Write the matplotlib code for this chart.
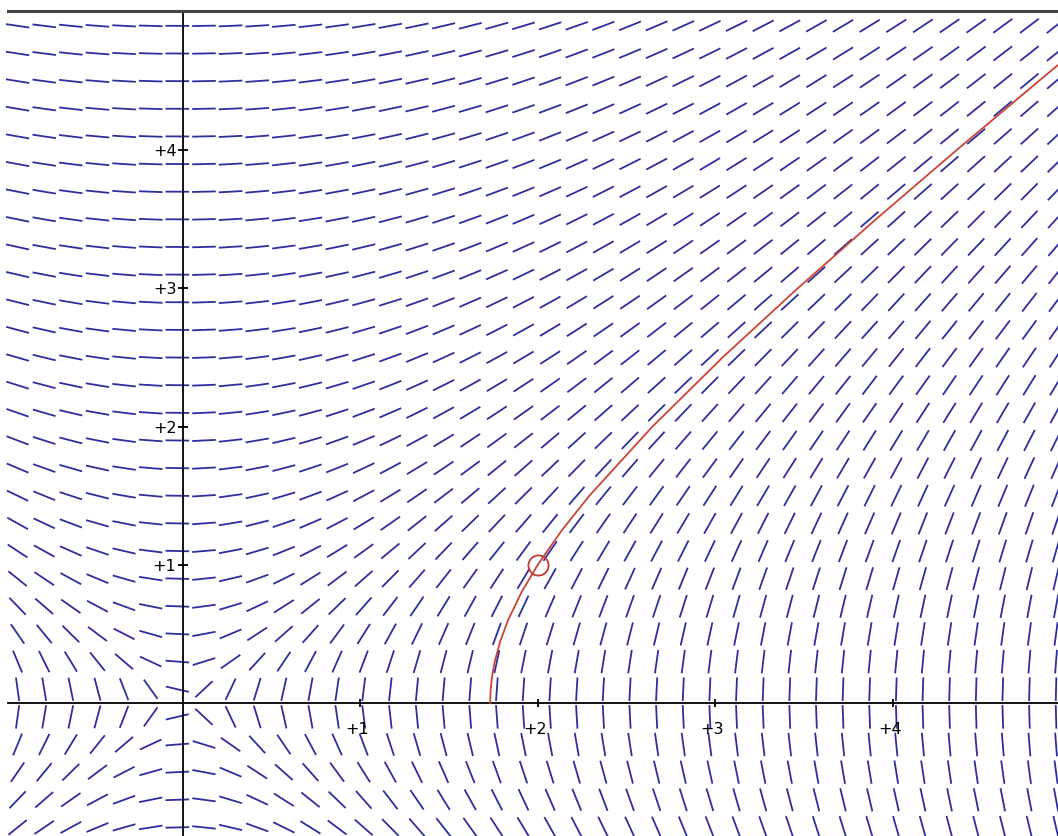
import numpy as np
import matplotlib.pyplot as plt
from matplotlib.collections import LineCollection
from matplotlib.lines import Line2D

# slope field dy/dx = x / y, sample grid
x_cols = np.round(-0.93 + 0.15 * np.arange(40), 3)
y_rows = np.round(-0.9 + 0.2 * np.arange(30), 3)

# solution curve through (2, 1)
curve_x = [1.732, 1.735, 1.744, 1.758, 1.790, 1.833, 1.908, 2.0, 2.136,
           2.291, 2.646, 3.041, 3.464, 3.905, 4.359, 4.822, 5.103]
curve_y = [0.0, 0.1, 0.2, 0.3, 0.45, 0.6, 0.8, 1.0, 1.25,
           1.5, 2.0, 2.5, 3.0, 3.5, 4.0, 4.5, 4.8]
point = (2, 1)

x_ticks = [1, 2, 3, 4]
y_ticks = [1, 2, 3, 4]
tick_labels = ['+1', '+2', '+3', '+4']

W, H = 1058, 836
xmin, xmax = -1.029, 4.931
ymin, ymax = -0.962, 5.087
kx = W / (xmax - xmin)
ky = H / (ymax - ymin)
top_frac = 1 - 10.8 / H

fig = plt.figure(figsize=(W / 100, H / 100), dpi=100)
ax = fig.add_axes([0, 0, 1, 1])
ax.set_xlim(xmin, xmax)
ax.set_ylim(ymin, ymax)
ax.axis('off')

# segments of fixed pixel length
half = 11.8
segs = []
for y in y_rows:
    for x in x_cols:
        if y > ymax:
            continue
        s = x / y
        px, py = 1.0, s * ky / kx
        n = np.hypot(px, py)
        dx = px / n * half / kx
        dy = py / n * half / ky
        segs.append([(x - dx, y - dy), (x + dx, y + dy)])
ax.add_collection(LineCollection(segs, colors='#2e2e9e', linewidths=1.3,
                                 capstyle='butt', zorder=2))

# axes through origin
ax.axhline(0, xmin=8 / W, color='black', lw=1.3, zorder=3)
ax.axvline(0, ymax=top_frac, color='black', lw=1.3, zorder=3)
ax.plot(x_ticks, [0] * len(x_ticks), ls='none', marker='|', ms=6,
        mew=1.3, color='black', zorder=3)
ax.plot([0] * len(y_ticks), y_ticks, ls='none', marker='_', ms=7,
        mew=1.3, color='black', zorder=3)
for x, lab in zip(x_ticks, tick_labels):
    ax.annotate(lab, (x, 0), xytext=(-2, -13.5), textcoords='offset points',
                ha='center', va='top', fontsize=11.5, color='black')
for y, lab in zip(y_ticks, tick_labels):
    ax.annotate(lab, (0, y), xytext=(-4.5, -1), textcoords='offset points',
                ha='right', va='center', fontsize=11.5, color='black')

# solution curve and initial point
ax.plot(curve_x, curve_y, color='#cc4436', lw=1.3, zorder=4)
ax.plot(*point, marker='o', ms=14.5, mfc='none', mec='#c43c30', mew=1.3,
        zorder=5)

# top border line of the screenshot
fig.add_artist(Line2D([8 / W, 1], [top_frac] * 2, color='#444444',
                      lw=2.2, transform=fig.transFigure))

fig.savefig('out.png', dpi=100)
